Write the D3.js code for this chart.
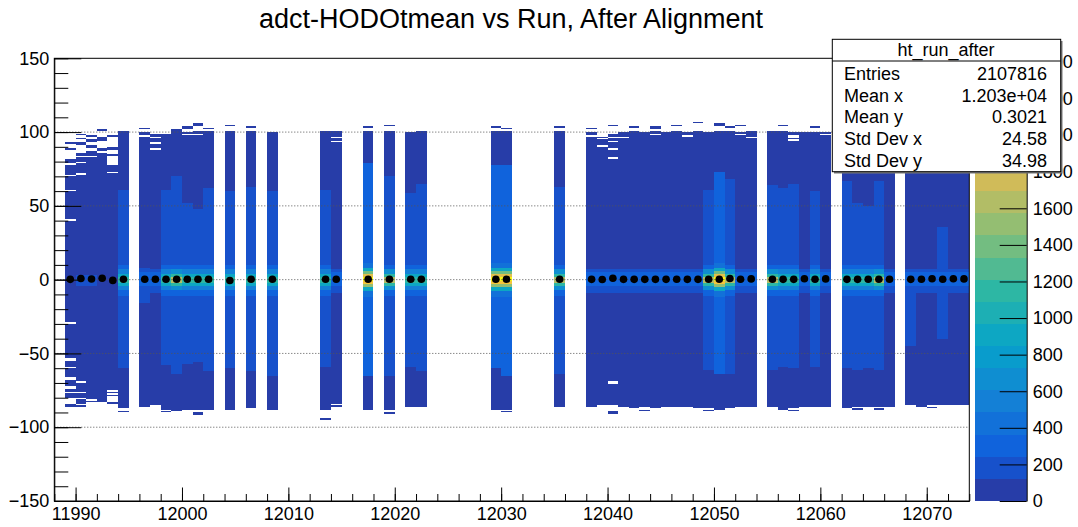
<!DOCTYPE html>
<meta charset="utf-8">
<style>
body { margin: 0; background: #fff; }
svg text { font-family: 'Liberation Sans', Arial, sans-serif; fill: #000; }
</style>
<body>
<svg width="1078" height="527"></svg>
<script src="https://d3js.org/d3.v7.min.js"></script>
<script>

// runs that have entries (bin = [run, run+1])
var runNumbers = [11989,11990,11991,11992,11993,11994,
  11996,11997,11998,11999,12000,12001,12002,
  12004,12006,12008,12013,12014,12017,12019,12021,12022,12029,12030,12035,
  12038,12039,12040,12041,12042,12043,12044,12045,12046,12047,12048,12049,12050,12051,12052,12053,
  12055,12056,12057,12058,12059,12060,
  12062,12063,12064,12065,12066,
  12068,12069,12070,12071,12072,12073];

// upper / lower edge of the filled body (adct-HODOtmean)
var bodyTop = [82,86,87,89,80,101,
  100,99,99,101,100,101,101,
  101,101,100,101,101,101,101,100,101,101,101,101,
  100,97,99,100,101,100,101,100,101,100,101,100,101,101,100,101,
  101,101,100,100,100,100,
  101,100,101,100,100,
  100,100,101,100,100,100];
var bodyBottom = [-80,-84,-83,-83,-79,-87,
  -86,-85,-88,-89,-88,-88,-88,
  -88,-87,-88,-88,-84,-88,-88,-86,-86,-88,-88,-86,
  -86,-85,-85,-86,-87,-86,-87,-86,-86,-86,-87,-87,-88,-87,-86,-86,
  -86,-88,-87,-86,-86,-86,
  -87,-86,-86,-86,-86,
  -85,-86,-85,-85,-85,-85];

// lighter middle band (null = none)
var innerTop = [null,null,null,null,null,61,
  8,null,61,70,52,48,62,
  60,63,60,61,null,79,70,59,65,78,78,63,
  null,null,null,null,null,null,null,null,null,null,null,61,73,68,null,null,
  64,62,65,null,60,null,
  67,52,50,67,null,
  5,null,null,36,null,null];
var innerBottom = [null,null,null,null,null,-60,
  -16,null,-58,-64,-57,-56,-62,
  -60,-62,-65,-59,null,-65,-65,-59,-62,-60,-65,-64,
  null,null,null,null,null,null,null,null,null,null,null,-61,-64,-64,null,null,
  -61,-59,-60,null,-59,null,
  -60,-61,-60,-61,null,
  -45,null,null,-40,null,null];
var innerCount = [0,0,0,0,0,170,
  150,0,170,200,150,150,170,
  160,170,170,160,0,290,200,160,170,280,260,180,
  0,0,0,0,0,0,0,0,0,0,0,170,250,200,0,0,
  180,170,170,0,160,0,
  170,160,150,180,0,
  150,0,0,150,0,0];

// peak shape around zero
var coreType = ["none","weak","weak","none","none","cyan",
  "faint","faint","cyan","green","cyan","cyan","cyan",
  "cyan","cyan","cyan","cyan","faint","yellow","green","cyan","cyan","yellow","yellow","green",
  "faint","faint","faint","faint","faint","faint","faint","faint","faint","faint","faint","green","yellow","green","faint","faint",
  "green","cyan","cyan","faint","cyan","faint",
  "cyan","cyan","cyan","green","faint",
  "faint","faint","faint","faint","faint","faint"];

// profile mean per run (black markers)
var profileMean = [0.2,0.8,0.4,0.9,-0.5,0.3,
  0.3,0.3,0.3,0.3,0.3,0.3,0.3,
  -0.6,0.3,0.3,0.3,0.3,0.3,0.3,0.3,0.3,0.3,0.3,0.3,
  0.2,0.1,0.9,0.2,0.2,0.2,0.2,0.2,0.3,0.2,0.2,0.3,0.3,0.8,0.3,0.5,
  0.3,0.2,0.2,0.6,0.3,0.5,
  0.2,0.2,0.3,0.3,0.3,
  0.2,0.3,0.6,0.3,0.6,0.5];

// [y0, y1, counts]
var coreNone = [];
var coreWeak = [[-4, 3, 140]];
var coreFaint = [[-9, -4, 160], [-4, 5, 330], [5, 7, 160]];
var coreCyan = [[-11,-7,290],[-7,-4,560],[-4,-2,850],[-2,2,1100],[2,4,850],[4,7,560],[7,10,290]];
var coreGreen = [[-11,-7,350],[-7,-4,700],[-4,-2,1150],[-2,2,1600],[2,4,1150],[4,7,700],[7,10,350]];
var coreYellow = [[-12,-8,450],[-8,-5,900],[-5,-3,1500],[-3,-1,2000],[-1,2,2380],[2,4,1900],[4,6,1400],[6,8,900],[8,11,450]];

// isolated bins outside the body: [run, y0, y1]
var strayBins = [[11989,92,93],[11989,88,89],[11989,-86,-84],[11990,98,99],[11990,95,96],[11990,91,93],
  [11990,-86,-85],[11991,97,98],[11991,93,95],[11991,89,91],[11992,101,102],[11992,94,97],[11993,97,98],
  [11993,88,90],[11993,84,85],[11993,-84,-83],[11994,-90,-89],[11996,102,103],[11998,-90,-89],
  [11999,101,102],[12000,102,104],[12001,104,106],[12001,-92,-90],[12002,102,103],[12004,104,105],
  [12006,103,104],[12013,-95,-94],[12014,-86,-85],[12017,103,104],[12019,104,105],[12019,-91,-90],
  [12029,103,104],[12030,102,103],[12030,-90,-89],[12035,103,104],[12038,102,103],[12040,104,105],
  [12040,-91,-89],[12042,103,104],[12043,-89,-88],[12044,102,104],[12046,104,105],[12048,106,107],
  [12049,-89,-88],[12050,104,106],[12051,103,104],[12052,104,105],[12056,104,105],[12057,-89,-88],
  [12059,103,104],[12063,-88,-87],[12065,-88,-87],[12070,-87,-86]];

// empty bins inside the body: [run, y0, y1]
var emptyBins = [[11989,78,79],[11989,70,71],[11989,60,61],[11989,40,41],[11989,-30,-29],[11989,-55,-53],
  [11989,-60,-59],[11989,-68,-66],[11989,-74,-72],[11989,-77,-76],[11990,83,84],[11990,79,80],[11990,71,72],
  [11990,-70,-69],[11990,-77,-76],[11990,-81,-80],[11991,83,84],[11991,-82,-81],[11992,90,91],[11992,86,87],
  [11993,78,80],[11993,72,73],[11993,-76,-75],[11993,-78,-77],[11996,97,98],[11997,96,97],[11997,92,93],
  [11997,88,89],[12000,98,99],[12001,98,99],[12014,96,97],[12014,93,94],[12038,97,98],[12039,95,96],
  [12039,90,91],[12040,96,97],[12040,93,94],[12040,88,89],[12040,82,83],[12040,-71,-69],[12041,96,97],
  [12044,98,99],[12047,97,98],[12052,98,99],[12053,96,97],[12057,96,98],[12057,94,95],[12060,98,99]];

var yMajor = [-150,-100,-50,0,50,100,150];
var yGrid = [-100,-50,0,50,100];
var xMajor = [11990,12000,12010,12020,12030,12040,12050,12060,12070];
var zTicks = [0,200,400,600,800,1000,1200,1400,1600,1800,2000,2200,2400];

var statsLabels = ["Entries","Mean x","Mean y","Std Dev x","Std Dev y"];
var statsValues = ["2107816","1.203e+04","0.3021","24.58","34.98"];

var zMax = 2420, nContours = 20;

// kBird palette
var birdStops = [0,0.125,0.25,0.375,0.5,0.625,0.75,0.875,1];
var birdR = [0.2082,0.0592,0.0780,0.0232,0.1802,0.5301,0.8186,0.9956,0.9764];
var birdG = [0.1664,0.3599,0.5041,0.6419,0.7178,0.7492,0.7328,0.7862,0.9832];
var birdB = [0.5293,0.8684,0.8385,0.7914,0.6425,0.4662,0.3499,0.1968,0.0539];
var birdScale = d3.scaleLinear().domain(birdStops)
  .range(birdStops.map(function(s, i) {
    return d3.rgb(birdR[i]*255, birdG[i]*255, birdB[i]*255);
  })).interpolate(d3.interpolateRgb);

function bandColor(band) {
  var idx = Math.floor((band + 0.99) * 255 / nContours);
  return birdScale(idx / 255);
}
function countColor(c) {
  var band = Math.min(nContours - 1, Math.floor(c * nContours / zMax));
  return bandColor(band);
}

var svg = d3.select("svg");
var x = d3.scaleLinear().domain([11988, 12074]).range([54.3, 969.3]);
var y = d3.scaleLinear().domain([-150, 150]).range([501, 58.3]);
var z = d3.scaleLinear().domain([0, zMax]).range([501, 58.3]);

var cores = {none: coreNone, weak: coreWeak, faint: coreFaint, cyan: coreCyan, green: coreGreen, yellow: coreYellow};

var hist = svg.append("g");
function cell(run, y0, y1, fill) {
  hist.append("rect")
    .attr("x", x(run)).attr("width", x(run + 1) - x(run))
    .attr("y", y(y1)).attr("height", y(y0) - y(y1))
    .attr("fill", fill).attr("shape-rendering", "crispEdges");
}

runNumbers.forEach(function(run, i) {
  cell(run, bodyBottom[i], bodyTop[i], countColor(40));
  if (innerTop[i] != null) cell(run, innerBottom[i], innerTop[i], countColor(innerCount[i]));
  cores[coreType[i]].forEach(function(s) { cell(run, s[0], s[1], countColor(s[2])); });
});
strayBins.forEach(function(s) { cell(s[0], s[1], s[2], countColor(30)); });
emptyBins.forEach(function(s) { cell(s[0], s[1], s[2], "#fff"); });

// grid
svg.append("g").selectAll("line").data(yGrid).enter().append("line")
  .attr("x1", x(11988)).attr("x2", x(12074))
  .attr("y1", function(d) { return y(d); }).attr("y2", function(d) { return y(d); })
  .attr("stroke", "#555").attr("stroke-width", 1).attr("stroke-dasharray", "1,2");

// profile markers
svg.append("g").selectAll("circle").data(runNumbers).enter().append("circle")
  .attr("cx", function(d) { return x(d + 0.5); })
  .attr("cy", function(d, i) { return y(profileMean[i]); })
  .attr("r", 3.8).attr("fill", "#000");

// frame
svg.append("rect").attr("x", x(11988)).attr("y", y(150))
  .attr("width", x(12074) - x(11988)).attr("height", y(-150) - y(150))
  .attr("fill", "none").attr("stroke", "#000").attr("stroke-width", 1);

// y axis
var yAxis = svg.append("g").attr("transform", "translate(" + x(11988) + ",0)")
  .call(d3.axisLeft(y).tickValues(yMajor).tickSize(-27).tickSizeOuter(0).tickPadding(5)
    .tickFormat(function(d) { return d < 0 ? "\u2212" + Math.abs(d) : d; }));
svg.append("g").attr("transform", "translate(" + x(11988) + ",0)")
  .call(d3.axisLeft(y).tickValues(d3.range(-150, 151, 10)).tickSize(-14).tickFormat(""))
  .select(".domain").remove();

// x axis
var xAxis = svg.append("g").attr("transform", "translate(0," + y(-150) + ")")
  .call(d3.axisBottom(x).tickValues(xMajor).tickSize(-13.5).tickSizeOuter(0).tickPadding(6)
    .tickFormat(d3.format("d")));
svg.append("g").attr("transform", "translate(0," + y(-150) + ")")
  .call(d3.axisBottom(x).tickValues(d3.range(11988, 12075, 2)).tickSize(-7).tickFormat(""))
  .select(".domain").remove();

svg.selectAll(".tick text").style("font-size", "18px");
svg.selectAll(".domain, .tick line").attr("stroke", "#000");

// palette
var pal = svg.append("g");
d3.range(nContours).forEach(function(b) {
  pal.append("rect").attr("x", 975).attr("width", 51.7)
    .attr("y", z((b + 1) * zMax / nContours)).attr("height", z(b * zMax / nContours) - z((b + 1) * zMax / nContours))
    .attr("fill", bandColor(b)).attr("shape-rendering", "crispEdges");
});
var zAxis = svg.append("g").attr("transform", "translate(1026.7,0)")
  .call(d3.axisRight(z).tickValues(zTicks).tickSize(-27).tickSizeOuter(0).tickPadding(6).tickFormat(d3.format("d")));
zAxis.selectAll("text").style("font-size", "18px");
zAxis.selectAll("line, .domain").attr("stroke", "#000");

// title
svg.append("text").attr("x", 511).attr("y", 28).attr("text-anchor", "middle")
  .style("font-size", "27px").text("adct-HODOtmean vs Run, After Alignment");

// stats box
var st = svg.append("g");
st.append("rect").attr("x", 834).attr("y", 41).attr("width", 228.5).attr("height", 132.5).attr("fill", "#777");
st.append("rect").attr("x", 832.3).attr("y", 39.3).attr("width", 228.4).attr("height", 132.4)
  .attr("fill", "#fff").attr("stroke", "#000").attr("stroke-width", 1);
st.append("line").attr("x1", 832.3).attr("x2", 1060.7).attr("y1", 61).attr("y2", 61).attr("stroke", "#000");
st.append("text").attr("x", 946).attr("y", 56).attr("text-anchor", "middle").style("font-size", "18px").text("ht_run_after");
statsLabels.forEach(function(l, i) {
  st.append("text").attr("x", 844).attr("y", 80 + i * 21.7).style("font-size", "18px").text(l);
  st.append("text").attr("x", 1047).attr("y", 80 + i * 21.7).attr("text-anchor", "end").style("font-size", "18px").text(statsValues[i]);
});

</script>
</body>
